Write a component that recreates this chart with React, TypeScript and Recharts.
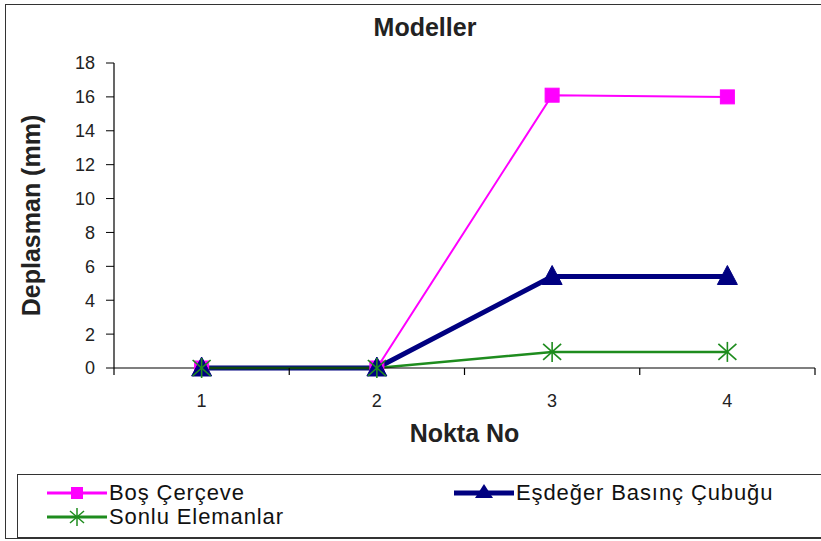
import React from 'react';
import { LineChart, Line, XAxis, YAxis } from 'recharts';

const points = [1, 2, 3, 4];
const bosCerceve = [0, 0, 16.1, 16.0];
const esdegerBasinc = [0, 0, 5.4, 5.4];
const sonluElemanlar = [0, 0, 0.95, 0.95];
const yTicks = [0, 2, 4, 6, 8, 10, 12, 14, 16, 18];

const titleText = 'Modeller';
const xTitle = 'Nokta No';
const yTitle = 'Deplasman (mm)';
const seriesNames = ['Boş Çerçeve', 'Eşdeğer Basınç Çubuğu', 'Sonlu Elemanlar'];

const MAGENTA = '#FF00FF';
const NAVY = '#000080';
const GREEN = '#1E8C1E';
const FONT = '"Liberation Sans", Arial, sans-serif';
const X_TICK_GAP = 26;
const X_TICK_LEN = 7;

const data = points.map((n, i) => ({
  n,
  bos: bosCerceve[i],
  esd: esdegerBasinc[i],
  son: sonluElemanlar[i],
}));

// Category tick: label at the category centre, tick marks on the category boundaries
const CategoryTick = (p: any) => {
  const { x, y, payload, index, width } = p;
  const half = width / (2 * points.length);
  const axisY = y - X_TICK_GAP;
  return (
    <g>
      {index === 0 && (
        <line x1={x - half} y1={axisY} x2={x - half} y2={axisY + X_TICK_LEN} stroke="#000" strokeWidth={1.2} />
      )}
      <line x1={x + half} y1={axisY} x2={x + half} y2={axisY + X_TICK_LEN} stroke="#000" strokeWidth={1.2} />
      <text x={x} y={y} dy="0.71em" textAnchor="middle" fontSize={18} fontFamily={FONT} fill="#222">
        {payload.value}
      </text>
    </g>
  );
};

const SquareDot = (p: any) => {
  const { cx, cy, index } = p;
  if (cx == null || cy == null) return <g key={`s${index}`} />;
  return <rect key={`s${index}`} x={cx - 7} y={cy - 7} width={14} height={14} fill={MAGENTA} stroke={MAGENTA} />;
};

const TriangleDot = (p: any) => {
  const { cx, cy, index } = p;
  if (cx == null || cy == null) return <g key={`t${index}`} />;
  return (
    <polygon
      key={`t${index}`}
      points={`${cx},${cy - 11} ${cx + 10},${cy + 8} ${cx - 10},${cy + 8}`}
      fill={NAVY}
      stroke={NAVY}
    />
  );
};

const StarDot = (p: any) => {
  const { cx, cy, index } = p;
  if (cx == null || cy == null) return <g key={`a${index}`} />;
  return (
    <g key={`a${index}`} stroke={GREEN} strokeWidth={1.6}>
      <line x1={cx} y1={cy - 10} x2={cx} y2={cy + 10} />
      <line x1={cx - 9} y1={cy - 8} x2={cx + 9} y2={cy + 8} />
      <line x1={cx - 9} y1={cy + 8} x2={cx + 9} y2={cy - 8} />
    </g>
  );
};

const LegendItem = ({ kind, color, width, label }: any) => (
  <div style={{ display: 'flex', alignItems: 'center', height: 24 }}>
    <svg width={62} height={24} style={{ display: 'block' }}>
      <line x1={0} y1={12} x2={60} y2={12} stroke={color} strokeWidth={width} />
      {kind === 'square' && <rect x={24} y={6} width={12} height={12} fill={color} />}
      {kind === 'triangle' && <polygon points="30,3 39,17 21,17" fill={color} />}
      {kind === 'star' && (
        <g stroke={color} strokeWidth={1.5}>
          <line x1={30} y1={3} x2={30} y2={21} />
          <line x1={23} y1={6} x2={37} y2={18} />
          <line x1={23} y1={18} x2={37} y2={6} />
        </g>
      )}
    </svg>
    <span style={{ fontSize: 22, letterSpacing: 0.9, fontFamily: FONT, color: '#111', whiteSpace: 'nowrap', lineHeight: '22px' }}>{label}</span>
  </div>
);

export default function App() {
  return (
    <div style={{ position: 'absolute', left: 0, top: 0, width: 821, height: 541, overflow: 'hidden', background: '#fff' }}>
      <div style={{ position: 'absolute', left: 5, top: 4, width: 840, height: 535, border: '1.5px solid #333', boxSizing: 'border-box' }} />
      <div style={{ position: 'absolute', left: 0, top: 13, width: 850, textAlign: 'center', fontFamily: FONT, fontWeight: 'bold', fontSize: 25, color: '#222', lineHeight: '28px' }}>
        {titleText}
      </div>
      <div style={{ position: 'absolute', left: 0, top: 0 }}>
        <LineChart width={821} height={541} data={data} margin={{ top: 63, right: 6, left: 10, bottom: 93 }}>
          <XAxis
            xAxisId="main"
            type="number"
            dataKey="n"
            domain={[0.5, 4.5]}
            ticks={points}
            interval={0}
            axisLine={{ stroke: '#000', strokeWidth: 1.2 }}
            tickLine={false}
            tickSize={0}
            tickMargin={X_TICK_GAP}
            height={80}
            tick={<CategoryTick />}
            label={{ value: xTitle, position: 'insideBottom', offset: 6, style: { fontSize: 25, fontWeight: 'bold', fontFamily: FONT, fill: '#222' } }}
            allowDataOverflow
          />
          <XAxis
            xAxisId="top"
            orientation="top"
            type="number"
            dataKey="n"
            domain={[0.5, 4.5]}
            height={0}
            tick={false}
            tickLine={false}
            axisLine={{ stroke: '#888', strokeWidth: 1.5 }}
            allowDataOverflow
          />
          <YAxis
            yAxisId="left"
            domain={[0, 18]}
            ticks={yTicks}
            interval={0}
            width={104}
            tickSize={8}
            tickMargin={11}
            axisLine={{ stroke: '#000', strokeWidth: 1.2 }}
            tickLine={{ stroke: '#000' }}
            tick={{ fontSize: 18, fontFamily: FONT, fill: '#222' }}
            label={{ value: yTitle, angle: -90, position: 'insideLeft', offset: 21, style: { textAnchor: 'middle', fontSize: 25, fontWeight: 'bold', fontFamily: FONT, fill: '#222' } }}
          />
          <YAxis
            yAxisId="right"
            orientation="right"
            domain={[0, 18]}
            width={0}
            tick={false}
            tickLine={false}
            axisLine={{ stroke: '#888', strokeWidth: 1.5 }}
          />
          <Line
            xAxisId="main"
            yAxisId="left"
            type="linear"
            dataKey="bos"
            name={seriesNames[0]}
            stroke={MAGENTA}
            strokeWidth={2}
            dot={SquareDot}
            isAnimationActive={false}
          />
          <Line
            xAxisId="main"
            yAxisId="left"
            type="linear"
            dataKey="esd"
            name={seriesNames[1]}
            stroke={NAVY}
            strokeWidth={5}
            dot={TriangleDot}
            isAnimationActive={false}
          />
          <Line
            xAxisId="main"
            yAxisId="left"
            type="linear"
            dataKey="son"
            name={seriesNames[2]}
            stroke={GREEN}
            strokeWidth={2.5}
            dot={StarDot}
            isAnimationActive={false}
          />
        </LineChart>
      </div>
      <div style={{ position: 'absolute', left: 17, top: 474, width: 840, height: 64, border: '1.5px solid #333', boxSizing: 'border-box', background: '#fff' }}>
        <div style={{ position: 'absolute', left: 29, top: 6 }}>
          <LegendItem kind="square" color={MAGENTA} width={3} label={seriesNames[0]} />
          <LegendItem kind="star" color={GREEN} width={3} label={seriesNames[2]} />
        </div>
        <div style={{ position: 'absolute', left: 436, top: 6 }}>
          <LegendItem kind="triangle" color={NAVY} width={5} label={seriesNames[1]} />
        </div>
      </div>
    </div>
  );
}
